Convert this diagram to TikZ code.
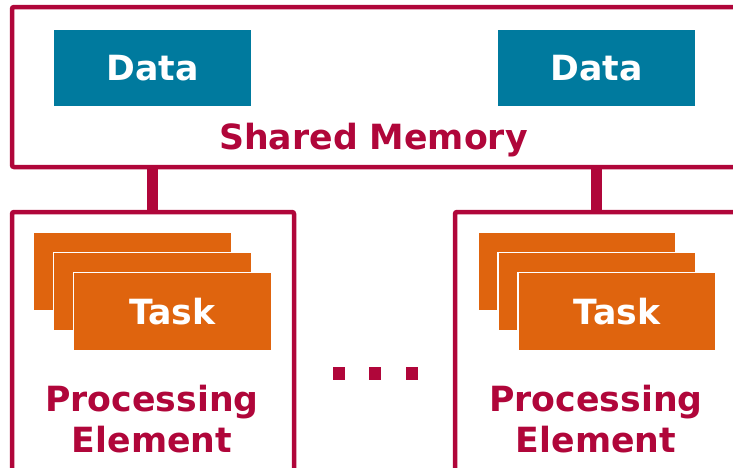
\documentclass[tikz,border=0pt]{standalone}
\usepackage{fontspec}
\setmainfont{DejaVu Sans}
\usetikzlibrary{positioning}
\definecolor{memred}{HTML}{B0063A}
\definecolor{datateal}{HTML}{007A9E}
\definecolor{taskorange}{HTML}{DF640E}

\begin{document}
\begin{tikzpicture}[x=1pt, y=-1pt,
    outline/.style={draw=memred, line width=4.5pt, rounded corners=2pt, inner sep=0pt},
    databox/.style={fill=datateal, text=white, minimum width=197pt, minimum height=76pt, inner sep=0pt, font=\bfseries\fontsize{34.7}{40}\selectfont},
    taskbox/.style={fill=taskorange, draw=white, line width=1.5pt, text=white, minimum width=198pt, minimum height=78pt, inner sep=0pt, font=\bfseries\fontsize{34.7}{40}\selectfont},
    redtext/.style={text=memred, inner sep=0pt, align=center, font=\bfseries\fontsize{34.7}{41}\selectfont},
    link/.style={draw=memred, line width=11pt}]
    \useasboundingbox (0,0) rectangle (733,467);
    \clip (0,0) rectangle (733,467);
    % shared memory
    \node[outline, fill=white, minimum width=733pt, minimum height=160pt] (mem) at (378.5,87) {};
    \node[databox] (data1) at (152.5,68) {Data};
    \node[databox] (data2) at (596.5,68) {Data};
    \node[redtext, anchor=base] (memlabel) at (373.5,149) {Shared Memory};
    % processing elements
    \node[outline, minimum width=282pt, minimum height=300pt] (pe1) at (153,362) {};
    \node[outline, minimum width=345pt, minimum height=300pt] (pe2) at (627.5,362) {};
    \draw[link] (data1 |- mem.south) -- (data1 |- pe1.north);
    \draw[link] (data2 |- mem.south) -- (data2 |- pe2.north);
    % tasks
    \node[taskbox] (task1a) at (132.5,271.5) {};
    \node[taskbox] (task1b) at (152.5,291.5) {};
    \node[taskbox] (task1c) at (172.5,311.5) {Task};
    \node[taskbox] (task2a) at (577,271.5) {};
    \node[taskbox] (task2b) at (597,291.5) {};
    \node[taskbox] (task2c) at (617,311.5) {Task};
    \node[redtext, anchor=north] (pe1label) at (152,385) {Processing\\Element};
    \node[redtext, anchor=north] (pe2label) at (596,385) {Processing\\Element};
    % dots
    \foreach \x in {339,375,412}
      \fill[memred] (\x-6,367) rectangle (\x+6,380);
\end{tikzpicture}
\end{document}
